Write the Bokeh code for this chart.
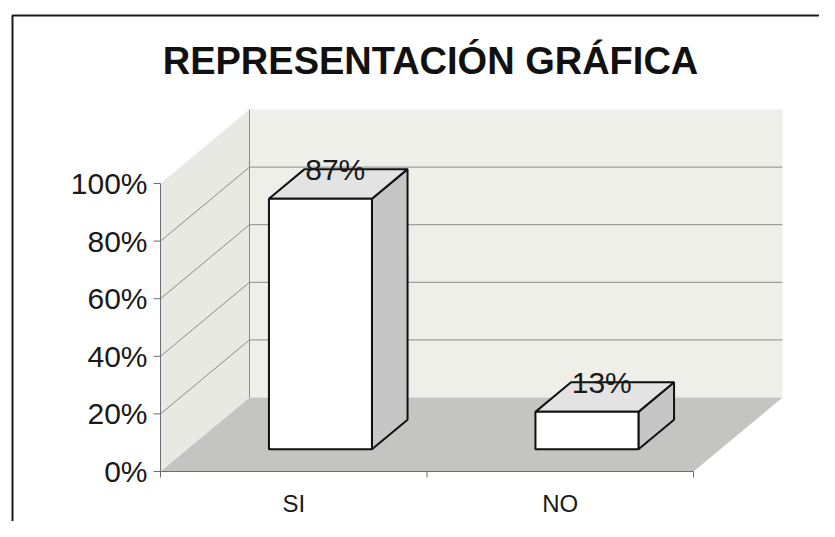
from bokeh.plotting import figure
from bokeh.models import Range1d
from bokeh.core.properties import value
from bokeh.embed import file_html
from bokeh.resources import INLINE

# ---------------- data ----------------
categories = ["SI", "NO"]
percentages = [0.87, 0.13]
tick_values = [0.0, 0.2, 0.4, 0.6, 0.8, 1.0]
tick_labels = ["0%", "20%", "40%", "60%", "80%", "100%"]
title_text = "REPRESENTACIÓN GRÁFICA"

# ---------------- layout constants ----------------
W, H = 819, 521
OX, OY = 160.0, 471.0          # canvas pixel of (category 0, 0%)
SX, SY = 266.5, 288.0          # pixels per category, pixels per 100 %


def dx(px):
    return px / SX


def dy(px):
    return px / SY


DEPTH_X, DEPTH_Y = dx(89), dy(74)     # full depth of the 3-D box
F0, F1 = 0.30, 0.70                   # bar front / back depth fractions
HALF_W = dx(51.5)                     # half bar width

FONT = value("Liberation Sans")

p = figure(width=W, height=H, output_backend="svg", toolbar_location=None,
           x_range=Range1d(-OX / SX, (W - OX) / SX),
           y_range=Range1d(-(H - OY) / SY, OY / SY),
           x_axis_location=None, y_axis_location=None, min_border=0,
           outline_line_color=None, background_fill_color="white",
           border_fill_color="white")
p.grid.visible = False

n = len(categories)
top = tick_values[-1]

# outer frame of the chart (left and top edges visible)
p.multi_line([[dx(-148), dx(-148), dx(900)]],
             [[dy(-300), dy(456), dy(456)]],
             line_color="#1a1a1a", line_width=2)

# back wall
p.patch([DEPTH_X, n + DEPTH_X, n + DEPTH_X, DEPTH_X],
        [DEPTH_Y, DEPTH_Y, top + DEPTH_Y, top + DEPTH_Y],
        fill_color="#efefe9", line_color=None)
# left wall
p.patch([0, DEPTH_X, DEPTH_X, 0],
        [0, DEPTH_Y, top + DEPTH_Y, top],
        fill_color="#e9e9e3", line_color=None)
# floor
p.patch([0, n, n + DEPTH_X, DEPTH_X],
        [0, 0, DEPTH_Y, DEPTH_Y],
        fill_color="#c4c4c2", line_color=None)

# grid lines on the walls
gx, gy = [], []
for v in tick_values[1:-1]:
    gx.append([0, DEPTH_X, n + DEPTH_X])
    gy.append([v, v + DEPTH_Y, v + DEPTH_Y])
gx.append([DEPTH_X, DEPTH_X])
gy.append([DEPTH_Y, top + DEPTH_Y])
p.multi_line(gx, gy, line_color="#8a8a8a", line_width=1)

# axes
ax_x, ax_y = [[0, 0], [0, n]], [[0, top], [0, 0]]
for v in tick_values:
    ax_x.append([-dx(7), 0])
    ax_y.append([v, v])
for i in range(n + 1):
    ax_x.append([i, i])
    ax_y.append([0, -dy(6)])
p.multi_line(ax_x, ax_y, line_color="#6e6e6e", line_width=1)

p.text(x=[-dx(13)] * len(tick_values), y=tick_values, text=tick_labels,
       text_align="right", text_baseline="middle", text_font=FONT,
       text_font_size="30px", text_color="#1a1a1a")

# bars
front_x, front_y, side_x, side_y, top_x, top_y = [], [], [], [], [], []
lab_x, lab_y, lab_t = [], [], []
for i, (cat, v) in enumerate(zip(categories, percentages)):
    c = i + 0.5
    l0, r0 = c - HALF_W + F0 * DEPTH_X, c + HALF_W + F0 * DEPTH_X
    l1, r1 = c - HALF_W + F1 * DEPTH_X, c + HALF_W + F1 * DEPTH_X
    b0, b1 = F0 * DEPTH_Y, F1 * DEPTH_Y
    front_x.append([l0, r0, r0, l0])
    front_y.append([b0, b0, v + b0, v + b0])
    side_x.append([r0, r1, r1, r0])
    side_y.append([b0, b1, v + b1, v + b0])
    top_x.append([l0, r0, r1, l1])
    top_y.append([v + b0, v + b0, v + b1, v + b1])
    lab_x.append(c + (F0 + F1) / 2 * DEPTH_X - dx(3))
    lab_y.append(v + b1)
    lab_t.append(f"{round(v * 100)}%")

p.patches(side_x, side_y, fill_color="#c6c6c6", line_color="#111111", line_width=2)
p.patches(top_x, top_y, fill_color="#e3e3e3", line_color="#111111", line_width=2)
p.patches(front_x, front_y, fill_color="#ffffff", line_color="#111111", line_width=2)

p.text(x=lab_x, y=lab_y, text=lab_t, text_align="center", text_baseline="middle",
       text_font=FONT, text_font_size="30px", text_color="#1a1a1a")

# category labels
p.text(x=[i + 0.5 for i in range(n)], y=[-dy(32)] * n, text=categories,
       text_align="center", text_baseline="middle", text_font=FONT,
       text_font_size="24px", text_color="#1a1a1a")

# title
p.text(x=[dx(270)], y=[dy(411)], text=[title_text], text_align="center",
       text_baseline="middle", text_font=FONT,
       text_font_style="bold", text_font_size="38px", text_color="#111111")

open("out.html", "w").write(file_html(p, INLINE))
